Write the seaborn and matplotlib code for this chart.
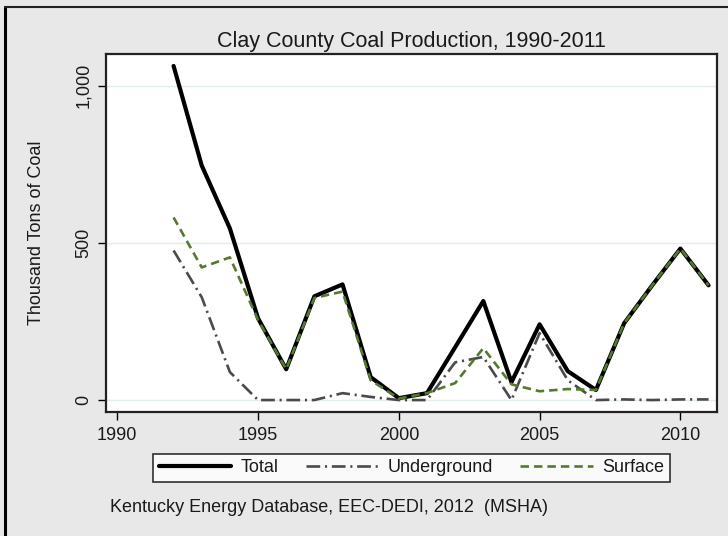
import matplotlib
matplotlib.use("Agg")
import matplotlib.pyplot as plt
from matplotlib.lines import Line2D
import pandas as pd
import seaborn as sns

years = list(range(1992, 2012))
total = [1063, 746, 546, 260, 98, 330, 368, 73, 6, 22, 168, 315, 57, 241, 92, 32, 244, 365, 482, 365]
underground = [476, 327, 89, 0, 0, 0, 22, 10, 0, 0, 120, 137, 0, 213, 63, 0, 2, 0, 2, 2]
surface = [581, 422, 454, 255, 98, 325, 345, 63, 5, 22, 54, 165, 50, 28, 35, 32, 244, 365, 482, 365]

df = pd.DataFrame({"year": years, "Total": total,
                   "Underground": underground, "Surface": surface})

sns.set_theme(style="white")
plt.rcParams["font.family"] = ["Liberation Sans", "DejaVu Sans"]

bg = "#e8e8e8"
txt = "#1a1a1a"
fig = plt.figure(figsize=(7.28, 5.36), dpi=100, facecolor=bg)
ax = fig.add_axes([106 / 728, 1 - 412 / 536, 611 / 728, 358 / 536])
ax.set_facecolor("white")

green = "#55792f"
sns.lineplot(data=df, x="year", y="Total", ax=ax, color="black", lw=3, label="Total")
sns.lineplot(data=df, x="year", y="Underground", ax=ax, color="#4a4a4a", lw=1.9,
             label="Underground")
ax.lines[-1].set_dashes([5.2, 1.8, 0.8, 1.8])
sns.lineplot(data=df, x="year", y="Surface", ax=ax, color=green, lw=1.9, label="Surface")
ax.lines[-1].set_dashes([3.2, 1.9])

ax.set_xlim(1989.6, 2011.3)
ax.set_ylim(-38, 1101)
ax.set_xticks([1990, 1995, 2000, 2005, 2010])
ax.set_yticks([0, 500, 1000])
ax.set_yticklabels(["0", "500", "1,000"], rotation=90, va="center")
for y in [0, 500, 1000]:
    ax.axhline(y, color="#e3eded", lw=1, zorder=0)

ax.tick_params(axis="both", direction="out", length=6, width=1, color="black",
               labelsize=13, colors=txt, left=True, bottom=True)
ax.tick_params(axis="y", pad=4)
ax.tick_params(axis="x", pad=5)
for s in ax.spines.values():
    s.set_color("#222222")
    s.set_linewidth(1.6)

ax.set_xlabel("")
ax.set_ylabel("Thousand Tons of Coal", fontsize=13, color=txt, labelpad=22)
ax.set_title("Clay County Coal Production, 1990-2011", fontsize=15.5, color=txt, pad=5)
ax.get_legend().remove()

handles, labels = ax.get_legend_handles_labels()
leg = fig.legend(handles, labels, loc="upper center",
                 bbox_to_anchor=(411.5 / 728, 1 - 454 / 536), ncol=3, frameon=True,
                 fontsize=13, handlelength=4.0, columnspacing=1.5, handletextpad=0.55,
                 borderpad=0.3, borderaxespad=0, fancybox=False, labelcolor=txt)
leg.get_frame().set_edgecolor("black")
leg.get_frame().set_linewidth(1.2)
leg.get_frame().set_facecolor("white")

fig.text(110 / 728, 1 - 508 / 536, "Kentucky Energy Database, EEC-DEDI, 2012  (MSHA)",
         fontsize=13, color=txt, va="center", ha="left")

fig.add_artist(Line2D([5 / 728, 5 / 728], [0, 1 - 7 / 536], color="black", lw=2.2,
                      transform=fig.transFigure))
fig.add_artist(Line2D([5 / 728, 1], [1 - 7 / 536, 1 - 7 / 536], color="#222222", lw=1.5,
                      transform=fig.transFigure))

fig.savefig("out.png", dpi=100, facecolor=bg)
